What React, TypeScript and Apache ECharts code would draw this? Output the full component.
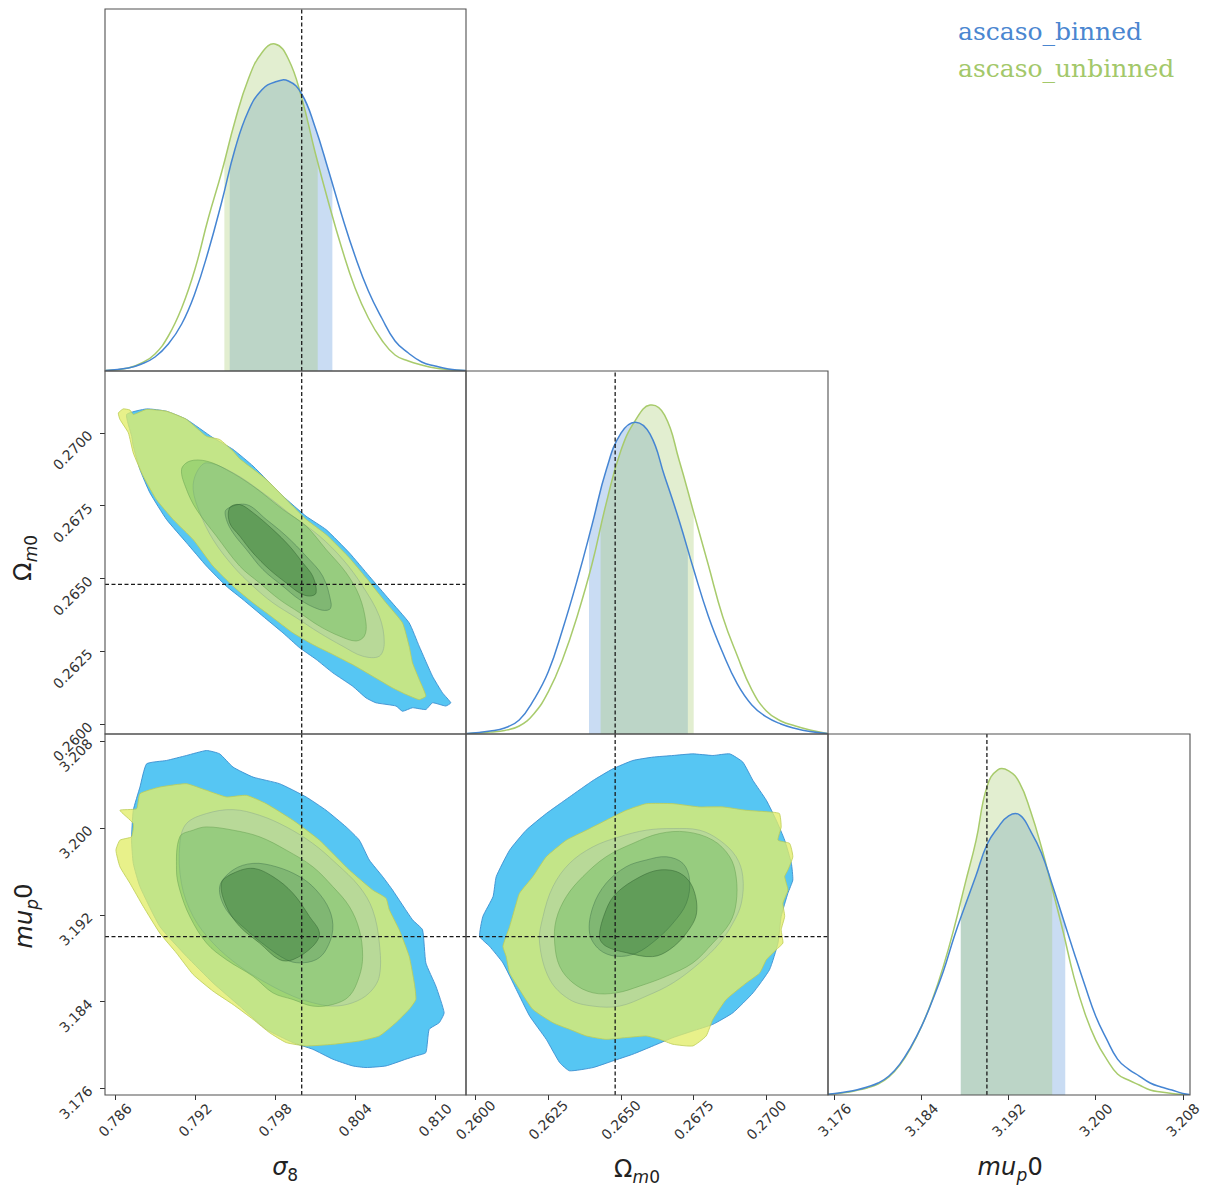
import React, { useEffect, useRef } from "react";
import * as echarts from "echarts";

// ---------- axis ranges and ticks ----------
const SIGMA8_RANGE = [0.78525, 0.81232];
const OMEGA_RANGE = [0.25967, 0.27212];
const MU_RANGE = [3.1754, 3.20866];
const DENSITY_MAX = 362;

const sigma8Ticks = [0.786, 0.792, 0.798, 0.804, 0.81];
const omegaTicks = [0.26, 0.2625, 0.265, 0.2675, 0.27];
const muTicks = [3.176, 3.184, 3.192, 3.2, 3.208];

// fiducial values (dashed lines)
const truthSigma8 = 0.8;
const truthOmega = 0.2648;
const truthMu = 3.19;

// ---------- 1D marginals (relative density) ----------
const sigma8Grid = [0.7853, 0.787, 0.788, 0.789, 0.79, 0.791, 0.792, 0.793, 0.794, 0.795, 0.796, 0.797, 0.798, 0.799, 0.8, 0.801, 0.802, 0.803, 0.804, 0.805, 0.806, 0.807, 0.808, 0.809, 0.81, 0.811, 0.8123];
const sigma8Binned = [0.5, 3, 7, 14, 27, 47, 78, 120, 169, 222, 260, 281, 289, 290, 277, 244, 201, 156, 115, 80, 53, 30, 18, 9, 5, 2, 0.5];
const sigma8Unbinned = [0.5, 3, 8, 17, 35, 63, 102, 153, 199, 250, 292, 318, 327, 312, 273, 219, 169, 123, 83, 53, 31, 16, 10, 6, 3, 1.5, 0.3];
const sigma8BandBinned = [0.7946, 0.8023];
const sigma8BandUnbinned = [0.7942, 0.8012];

const omegaGrid = [0.2597, 0.2605, 0.261, 0.2615, 0.262, 0.2625, 0.263, 0.2635, 0.264, 0.2645, 0.265, 0.2655, 0.266, 0.2665, 0.267, 0.2675, 0.268, 0.2685, 0.269, 0.2695, 0.27, 0.2705, 0.271, 0.2715, 0.2721];
const omegaBinned = [0.5, 3, 6, 14, 34, 62, 105, 154, 208, 264, 300, 311, 299, 257, 213, 164, 118, 81, 50, 29, 17, 10, 5.5, 2.5, 0.5];
const omegaUnbinned = [0.3, 2, 3.5, 8, 20, 42, 75, 118, 169, 231, 283, 313, 328, 318, 273, 221, 169, 117, 78, 44, 23, 13, 8, 4, 0.5];
const omegaBandBinned = [0.2639, 0.2673];
const omegaBandUnbinned = [0.2643, 0.2675];

const muGrid = [3.1753, 3.177, 3.178, 3.179, 3.18, 3.181, 3.182, 3.183, 3.184, 3.185, 3.186, 3.187, 3.188, 3.189, 3.19, 3.191, 3.192, 3.193, 3.194, 3.195, 3.196, 3.197, 3.198, 3.199, 3.2, 3.201, 3.202, 3.203, 3.204, 3.205, 3.206, 3.207, 3.208, 3.2086];
const muBinned = [0.5, 3, 5, 8, 12, 19, 31, 48, 69, 95, 124, 159, 190, 220, 251, 268, 280, 281, 265, 243, 211, 177, 143, 110, 79, 56, 36, 26, 19, 12, 8, 5, 1.5, 0.5];
const muUnbinned = [0.3, 2.5, 4.5, 7, 11, 18, 30, 47, 69, 96, 129, 168, 212, 255, 309, 326, 325, 313, 285, 249, 207, 164, 118, 82, 55, 36, 21, 15, 10, 5, 3, 1.5, 0.6, 0.3];
const muBandBinned = [3.1876, 3.1972];
const muBandUnbinned = [3.1876, 3.196];

// ---------- 2D contours: sigma8 vs Omega_m0 ----------
const sigOmBinnedOuter = [[0.78687,0.27063],[0.78837,0.27082],[0.78986,0.27074],[0.79136,0.27046],[0.79335,0.26983],[0.79485,0.26943],[0.79635,0.26886],[0.79859,0.26783],[0.80033,0.26714],[0.80183,0.26668],[0.80358,0.26588],[0.80507,0.26508],[0.80657,0.26428],[0.80806,0.26348],[0.80881,0.26268],[0.80981,0.26165],[0.81056,0.26108],[0.81118,0.26074],[0.8108,0.26063],[0.80981,0.26074],[0.80931,0.26051],[0.80831,0.26057],[0.80756,0.26045],[0.80707,0.26063],[0.80557,0.26074],[0.80482,0.26091],[0.80382,0.26131],[0.80233,0.26177],[0.80108,0.26223],[0.79984,0.26263],[0.79859,0.26314],[0.79709,0.26371],[0.7956,0.26428],[0.79435,0.26474],[0.79286,0.26543],[0.79136,0.26623],[0.78986,0.26703],[0.78862,0.26794],[0.78787,0.26874],[0.78737,0.26954],[0.78725,0.26988]];
const sigOmUnbinnedOuter = [[0.78625,0.27068],[0.78662,0.27082],[0.78712,0.27078],[0.78737,0.27063],[0.78837,0.2708],[0.78986,0.27074],[0.79136,0.27046],[0.79286,0.26988],[0.79385,0.26977],[0.79485,0.26937],[0.79535,0.26911],[0.79734,0.2684],[0.79934,0.26748],[0.80033,0.26703],[0.80183,0.26651],[0.80358,0.26571],[0.80482,0.26503],[0.80632,0.26417],[0.80756,0.26348],[0.80806,0.26268],[0.80831,0.26211],[0.80881,0.26154],[0.80931,0.26097],[0.80881,0.26085],[0.80781,0.26103],[0.80682,0.26125],[0.80532,0.26165],[0.80382,0.26205],[0.80233,0.2624],[0.80083,0.26274],[0.79934,0.26314],[0.79784,0.26366],[0.79635,0.26417],[0.79485,0.26474],[0.79335,0.26543],[0.79186,0.26634],[0.79036,0.26703],[0.78911,0.26771],[0.78812,0.26851],[0.78737,0.26931],[0.787,0.27],[0.78637,0.27046]];
const sigOmBinnedMid = [[0.79211,0.26863],[0.79286,0.26897],[0.79485,0.26863],[0.79709,0.26794],[0.79934,0.26714],[0.80133,0.26646],[0.80308,0.26566],[0.80457,0.26474],[0.80582,0.26371],[0.80619,0.2628],[0.80582,0.26234],[0.80457,0.26234],[0.80308,0.26268],[0.80133,0.26314],[0.79959,0.26366],[0.79784,0.26417],[0.79635,0.26474],[0.79485,0.26543],[0.79335,0.26634],[0.79236,0.26726],[0.79186,0.26806]];
const sigOmUnbinnedMid = [[0.79099,0.26874],[0.79161,0.26903],[0.79286,0.26903],[0.79435,0.26874],[0.79635,0.26817],[0.79859,0.26737],[0.80033,0.2668],[0.80183,0.266],[0.80333,0.2652],[0.80432,0.2644],[0.80482,0.26348],[0.8047,0.26303],[0.80407,0.26286],[0.80283,0.26303],[0.80133,0.26337],[0.79984,0.26383],[0.79834,0.26428],[0.79684,0.26485],[0.79535,0.26543],[0.7936,0.26646],[0.79211,0.26737],[0.79136,0.26806]];
const sigOmBinnedInner = [[0.79435,0.26737],[0.79585,0.26754],[0.79734,0.26703],[0.79884,0.26646],[0.80033,0.26577],[0.80158,0.26508],[0.8022,0.26417],[0.80208,0.26394],[0.80133,0.26394],[0.79984,0.26428],[0.79859,0.26474],[0.79709,0.26531],[0.79585,0.266],[0.79485,0.26657],[0.79435,0.26703]];
const sigOmUnbinnedInner = [[0.7946,0.26743],[0.79535,0.26754],[0.79635,0.26726],[0.79784,0.26668],[0.79909,0.26611],[0.80008,0.26554],[0.80083,0.26508],[0.80108,0.26451],[0.80058,0.2644],[0.79984,0.26451],[0.79884,0.26485],[0.79759,0.26531],[0.79635,0.26588],[0.79535,0.26646],[0.7946,0.26691]];

// ---------- 2D contours: sigma8 vs mu_p0 ----------
const sigMuBinnedOuter = [[0.78724,3.19888],[0.78737,3.20163],[0.78787,3.20377],[0.78837,3.20591],[0.78986,3.20622],[0.79136,3.20668],[0.79286,3.20714],[0.79385,3.20683],[0.79485,3.20561],[0.79635,3.20469],[0.79834,3.20408],[0.80033,3.20286],[0.80183,3.20163],[0.80333,3.2001],[0.80432,3.19888],[0.80507,3.19705],[0.80607,3.19552],[0.80681,3.19429],[0.80831,3.19154],[0.80906,3.19062],[0.80931,3.18757],[0.81006,3.18543],[0.81068,3.18298],[0.81031,3.18206],[0.80956,3.18145],[0.80931,3.17931],[0.80856,3.179],[0.80781,3.1787],[0.80632,3.17808],[0.80482,3.17793],[0.80382,3.17808],[0.80233,3.1787],[0.80083,3.17961],[0.79934,3.18023],[0.79734,3.18145],[0.79535,3.18359],[0.79335,3.18573],[0.79136,3.18818],[0.78936,3.19093],[0.78787,3.1946],[0.78737,3.19674]];
const sigMuUnbinnedOuter = [[0.78637,3.20163],[0.78762,3.20178],[0.78787,3.20316],[0.78936,3.20377],[0.79136,3.20408],[0.79286,3.20347],[0.79435,3.20286],[0.79585,3.20301],[0.79734,3.20224],[0.79934,3.20072],[0.80133,3.19888],[0.80357,3.19613],[0.80532,3.19429],[0.80632,3.19353],[0.80657,3.19246],[0.80731,3.19062],[0.80806,3.18818],[0.80844,3.18573],[0.80856,3.1842],[0.80806,3.18329],[0.80706,3.18206],[0.80582,3.18084],[0.80432,3.18038],[0.80233,3.18007],[0.80033,3.17992],[0.79884,3.18023],[0.79759,3.18114],[0.79635,3.18237],[0.79485,3.18374],[0.79335,3.18497],[0.79186,3.1865],[0.79061,3.18848],[0.78936,3.19032],[0.78812,3.19277],[0.78712,3.19491],[0.78637,3.19643],[0.78607,3.19796],[0.78637,3.19888],[0.78724,3.19919],[0.78737,3.20041]];
const sigMuBinnedMid = [[0.79086,3.19858],[0.79136,3.20041],[0.79286,3.20133],[0.79485,3.20169],[0.79684,3.20117],[0.79884,3.2001],[0.80083,3.19858],[0.80258,3.19674],[0.80432,3.1946],[0.80532,3.19246],[0.80582,3.1894],[0.80582,3.18634],[0.80507,3.18481],[0.80382,3.1839],[0.80233,3.18359],[0.80083,3.1839],[0.79934,3.18451],[0.79734,3.18573],[0.79535,3.18726],[0.79335,3.1894],[0.79186,3.19185],[0.79098,3.19491]];
const sigMuUnbinnedMid = [[0.79061,3.19613],[0.79086,3.19919],[0.79186,3.1998],[0.79286,3.2001],[0.79485,3.1998],[0.79684,3.19919],[0.79884,3.19796],[0.80083,3.19643],[0.80233,3.1946],[0.80357,3.19277],[0.80432,3.19062],[0.80457,3.18818],[0.80432,3.18634],[0.80357,3.18451],[0.80233,3.18374],[0.80083,3.18359],[0.79934,3.1842],[0.79784,3.18481],[0.79635,3.18634],[0.79435,3.18787],[0.79286,3.1894],[0.79161,3.19185],[0.79086,3.19429]];
const sigMuBinnedInner = [[0.79385,3.1946],[0.79485,3.19613],[0.79635,3.19674],[0.79809,3.19643],[0.79984,3.19552],[0.80108,3.19429],[0.80208,3.19246],[0.80233,3.19062],[0.80183,3.18879],[0.80108,3.18787],[0.79984,3.18757],[0.79884,3.18787],[0.79734,3.1891],[0.79585,3.19062],[0.79435,3.19246]];
const sigMuUnbinnedInner = [[0.79398,3.19491],[0.79485,3.19582],[0.79635,3.19628],[0.79784,3.19552],[0.79934,3.19399],[0.80058,3.19185],[0.80133,3.19032],[0.80083,3.1891],[0.79934,3.18787],[0.79834,3.18787],[0.79684,3.1894],[0.79535,3.19093],[0.79435,3.19277]];

// ---------- 2D contours: Omega_m0 vs mu_p0 ----------
const omMuBinnedOuter = [[0.26014,3.19001],[0.26025,3.19185],[0.2606,3.19368],[0.26071,3.19552],[0.26117,3.19796],[0.26174,3.1998],[0.26243,3.20133],[0.26323,3.20286],[0.26404,3.20438],[0.26472,3.20545],[0.26541,3.20622],[0.2661,3.20653],[0.26679,3.20668],[0.26747,3.20683],[0.26816,3.20668],[0.26874,3.20683],[0.26919,3.20607],[0.26954,3.20438],[0.27,3.20255],[0.27034,3.20072],[0.27063,3.19888],[0.27086,3.19674],[0.27091,3.19521],[0.27074,3.19399],[0.27051,3.19185],[0.2704,3.1894],[0.27011,3.18695],[0.26954,3.18481],[0.26885,3.18298],[0.26816,3.18191],[0.26747,3.1813],[0.26679,3.18069],[0.2661,3.17992],[0.26541,3.17916],[0.26472,3.17854],[0.26404,3.17793],[0.26323,3.17763],[0.26289,3.17839],[0.26243,3.18053],[0.26186,3.18267],[0.2614,3.18512],[0.26094,3.18757],[0.26048,3.1891]];
const omMuUnbinnedOuter = [[0.26105,3.18818],[0.26094,3.1891],[0.26117,3.19093],[0.2614,3.19307],[0.26151,3.19399],[0.26197,3.19552],[0.26243,3.19735],[0.26312,3.19888],[0.26381,3.1998],[0.26449,3.20072],[0.26518,3.20163],[0.26587,3.20224],[0.26679,3.20224],[0.2677,3.20194],[0.26851,3.20194],[0.26931,3.20163],[0.27011,3.20148],[0.27045,3.20133],[0.27051,3.2001],[0.2704,3.19888],[0.2708,3.19858],[0.27091,3.19735],[0.27074,3.19613],[0.27063,3.19552],[0.27074,3.19429],[0.27057,3.19307],[0.27063,3.19185],[0.27051,3.19062],[0.27057,3.1894],[0.27034,3.18879],[0.27,3.18787],[0.26977,3.18665],[0.26931,3.18573],[0.26862,3.1842],[0.26816,3.18237],[0.26793,3.18084],[0.26747,3.17992],[0.26679,3.18007],[0.26633,3.18053],[0.26587,3.18084],[0.26518,3.18069],[0.26449,3.18053],[0.26381,3.18084],[0.26323,3.18145],[0.26266,3.18206],[0.26197,3.18329],[0.26151,3.18512],[0.26117,3.18665]];
const omMuBinnedMid = [[0.2622,3.1894],[0.26232,3.19185],[0.26266,3.1946],[0.26323,3.19674],[0.26404,3.19827],[0.26495,3.19919],[0.26587,3.1998],[0.26679,3.19995],[0.2677,3.1998],[0.26839,3.19888],[0.26896,3.19735],[0.26919,3.19552],[0.26914,3.19307],[0.26885,3.19124],[0.26839,3.1894],[0.2677,3.18757],[0.26679,3.18573],[0.26587,3.18451],[0.26495,3.18359],[0.26404,3.18359],[0.26323,3.1842],[0.26255,3.18604]];
const omMuUnbinnedMid = [[0.26272,3.1894],[0.26277,3.19154],[0.26312,3.19368],[0.26369,3.19552],[0.26449,3.19735],[0.26541,3.19858],[0.26633,3.19949],[0.26725,3.19964],[0.26816,3.19888],[0.26874,3.19735],[0.26896,3.19552],[0.26896,3.19307],[0.26874,3.19124],[0.26816,3.1894],[0.26747,3.18757],[0.26656,3.18634],[0.26564,3.18543],[0.26484,3.18481],[0.26404,3.18481],[0.26335,3.18573],[0.26289,3.18726]];
const omMuBinnedInner = [[0.26392,3.19032],[0.26404,3.19277],[0.26449,3.19491],[0.26518,3.19643],[0.26587,3.19705],[0.26656,3.19735],[0.26713,3.19674],[0.26736,3.19521],[0.26725,3.19307],[0.26679,3.19124],[0.26621,3.18971],[0.26553,3.18848],[0.26484,3.18818],[0.26426,3.18879]];
const omMuUnbinnedInner = [[0.26426,3.18998],[0.26449,3.19246],[0.26484,3.19399],[0.26564,3.19548],[0.26633,3.19613],[0.26702,3.19585],[0.26746,3.19457],[0.2676,3.19218],[0.26726,3.19035],[0.26667,3.18879],[0.26609,3.18815],[0.26519,3.18851],[0.26449,3.1891]];

// ---------- styling ----------
const BINNED_LINE = "#4585d3";
const UNBINNED_LINE = "#a8cb6c";
const BINNED_BAND = "rgba(90,150,220,0.33)";
const UNBINNED_BAND = "rgba(160,200,100,0.3)";

const LAYER_STYLES = {
  binnedOuter: { fill: "#56c6f3", stroke: "#3b8fd0", smooth: 0.15 },
  unbinnedOuter: { fill: "rgba(225,237,105,0.78)", stroke: "rgba(190,205,85,0.9)", smooth: 0.15 },
  binnedMid: { fill: "rgba(150,185,200,0.25)", stroke: "rgba(140,170,140,0.55)", smooth: 0.35 },
  unbinnedMid: { fill: "rgba(90,180,80,0.35)", stroke: "rgba(100,160,80,0.55)", smooth: 0.35 },
  binnedInner: { fill: "rgba(60,120,80,0.25)", stroke: "rgba(70,120,80,0.55)", smooth: 0.35 },
  unbinnedInner: { fill: "rgba(40,110,40,0.35)", stroke: "rgba(50,100,50,0.55)", smooth: 0.35 },
};

const CURVE_SMOOTH = 0.45;
const FONT = '"DejaVu Sans", sans-serif';

// grid boxes: [left, top, width, height]
const GRID_BOXES = [
  [105, 9, 361, 362], // sigma8 marginal
  [105, 371, 361, 363], // sigma8 - Omega
  [105, 734, 361, 361], // sigma8 - mu
  [466, 371, 362, 363], // Omega marginal
  [466, 734, 362, 361], // Omega - mu
  [828, 734, 362, 361], // mu marginal
];

function plainAxis(gridIndex: number, range: number[]) {
  return {
    type: "value",
    gridIndex,
    min: range[0],
    max: range[1],
    axisLine: { show: false },
    splitLine: { show: false },
    axisTick: { show: false },
    axisLabel: { show: false },
  };
}

function labelledAxis(gridIndex: number, range: number[], ticks: number[], digits: number, isX: boolean) {
  return {
    ...plainAxis(gridIndex, range),
    axisTick: {
      show: true,
      length: 5,
      customValues: ticks,
      lineStyle: { color: "#333", width: 1 },
    },
    axisLabel: {
      show: true,
      customValues: ticks,
      rotate: 45,
      margin: isX ? 25 : 15,
      align: isX ? "center" : "right",
      verticalAlign: "middle",
      color: "#333",
      fontSize: 14,
      fontFamily: FONT,
      formatter: (v: number) => Number(v).toFixed(digits),
    },
  };
}

function contourSeries(points: number[][], gridIndex: number, style: any) {
  return {
    type: "custom",
    xAxisIndex: gridIndex,
    yAxisIndex: gridIndex,
    clip: true,
    silent: true,
    data: points,
    renderItem: (params: any, api: any) => {
      if (params.dataIndex !== 0) return null;
      return {
        type: "polygon",
        shape: { points: points.map((p) => api.coord(p)), smooth: style.smooth },
        style: { fill: style.fill, stroke: style.stroke, lineWidth: 0.9 },
      };
    },
  };
}

function bandSeries(xs: number[], ys: number[], band: number[], gridIndex: number, color: string) {
  const pts = xs.map((x, i) => [x, ys[i]]);
  return {
    type: "custom",
    xAxisIndex: gridIndex,
    yAxisIndex: gridIndex,
    clip: true,
    silent: true,
    data: pts,
    renderItem: (params: any, api: any) => {
      if (params.dataIndex !== 0) return null;
      const curve = pts.map((p) => api.coord(p));
      const endBase = api.coord([xs[xs.length - 1], 0]);
      const startBase = api.coord([xs[0], 0]);
      const topLeft = api.coord([band[0], DENSITY_MAX]);
      const bottomRight = api.coord([band[1], 0]);
      return {
        type: "polygon",
        shape: { points: [...curve, endBase, startBase], smooth: CURVE_SMOOTH },
        style: { fill: color },
        clipPath: {
          type: "rect",
          shape: {
            x: topLeft[0],
            y: topLeft[1],
            width: bottomRight[0] - topLeft[0],
            height: bottomRight[1] - topLeft[1],
          },
        },
      };
    },
  };
}

function curveSeries(xs: number[], ys: number[], gridIndex: number, color: string) {
  const pts = xs.map((x, i) => [x, ys[i]]);
  return {
    type: "custom",
    xAxisIndex: gridIndex,
    yAxisIndex: gridIndex,
    clip: true,
    silent: true,
    data: pts,
    renderItem: (params: any, api: any) => {
      if (params.dataIndex !== 0) return null;
      return {
        type: "polyline",
        shape: { points: pts.map((p) => api.coord(p)), smooth: CURVE_SMOOTH },
        style: { stroke: color, lineWidth: 1.5, fill: "none" },
      };
    },
  };
}

function truthLine(gridIndex: number, a: number[], b: number[]) {
  return {
    type: "line",
    xAxisIndex: gridIndex,
    yAxisIndex: gridIndex,
    data: [a, b],
    symbol: "none",
    silent: true,
    z: 6,
    lineStyle: { color: "#1a1a1a", width: 1.3, type: [4, 2.5] },
  };
}

function contourStack(gridIndex: number, layers: number[][][]) {
  const styles = [
    LAYER_STYLES.binnedOuter,
    LAYER_STYLES.unbinnedOuter,
    LAYER_STYLES.binnedMid,
    LAYER_STYLES.unbinnedMid,
    LAYER_STYLES.binnedInner,
    LAYER_STYLES.unbinnedInner,
  ];
  return layers.map((pts, i) => contourSeries(pts, gridIndex, styles[i]));
}

function marginal(gridIndex: number, xs: number[], binned: number[], unbinned: number[], bandB: number[], bandU: number[]) {
  return [
    bandSeries(xs, binned, bandB, gridIndex, BINNED_BAND),
    bandSeries(xs, unbinned, bandU, gridIndex, UNBINNED_BAND),
    curveSeries(xs, unbinned, gridIndex, UNBINNED_LINE),
    curveSeries(xs, binned, gridIndex, BINNED_LINE),
  ];
}

// text helpers for axis names (math-style labels)
function txt(x: number, y: number, text: string, size: number, italic: boolean) {
  return {
    type: "text",
    x,
    y,
    silent: true,
    style: {
      text,
      font: `${italic ? "italic " : ""}${size}px ${FONT}`,
      fill: "#222",
      align: "left",
      textAlign: "left",
      verticalAlign: "middle",
      textVerticalAlign: "middle",
    },
  };
}

function legendText(y: number, text: string, color: string) {
  return {
    type: "text",
    x: 958,
    y,
    silent: true,
    style: {
      text,
      font: '25px "DejaVu Serif", serif',
      fill: color,
      align: "left",
      textAlign: "left",
      verticalAlign: "middle",
      textVerticalAlign: "middle",
    },
  };
}

function buildOption() {
  const grid = GRID_BOXES.map(([left, top, width, height]) => ({
    show: true,
    left,
    top,
    width,
    height,
    z: 10,
    containLabel: false,
    backgroundColor: "transparent",
    borderColor: "#505050",
    borderWidth: 1.1,
  }));

  const xAxis = [
    plainAxis(0, SIGMA8_RANGE),
    plainAxis(1, SIGMA8_RANGE),
    labelledAxis(2, SIGMA8_RANGE, sigma8Ticks, 3, true),
    plainAxis(3, OMEGA_RANGE),
    labelledAxis(4, OMEGA_RANGE, omegaTicks, 4, true),
    labelledAxis(5, MU_RANGE, muTicks, 3, true),
  ];
  const yAxis = [
    plainAxis(0, [0, DENSITY_MAX]),
    labelledAxis(1, OMEGA_RANGE, omegaTicks, 4, false),
    labelledAxis(2, MU_RANGE, muTicks, 3, false),
    plainAxis(3, [0, DENSITY_MAX]),
    plainAxis(4, MU_RANGE),
    plainAxis(5, [0, DENSITY_MAX]),
  ];

  const series: any[] = [
    ...marginal(0, sigma8Grid, sigma8Binned, sigma8Unbinned, sigma8BandBinned, sigma8BandUnbinned),
    ...contourStack(1, [sigOmBinnedOuter, sigOmUnbinnedOuter, sigOmBinnedMid, sigOmUnbinnedMid, sigOmBinnedInner, sigOmUnbinnedInner]),
    ...contourStack(2, [sigMuBinnedOuter, sigMuUnbinnedOuter, sigMuBinnedMid, sigMuUnbinnedMid, sigMuBinnedInner, sigMuUnbinnedInner]),
    ...marginal(3, omegaGrid, omegaBinned, omegaUnbinned, omegaBandBinned, omegaBandUnbinned),
    ...contourStack(4, [omMuBinnedOuter, omMuUnbinnedOuter, omMuBinnedMid, omMuUnbinnedMid, omMuBinnedInner, omMuUnbinnedInner]),
    ...marginal(5, muGrid, muBinned, muUnbinned, muBandBinned, muBandUnbinned),
    // fiducial dashed lines
    truthLine(0, [truthSigma8, 0], [truthSigma8, DENSITY_MAX]),
    truthLine(1, [truthSigma8, OMEGA_RANGE[0]], [truthSigma8, OMEGA_RANGE[1]]),
    truthLine(1, [SIGMA8_RANGE[0], truthOmega], [SIGMA8_RANGE[1], truthOmega]),
    truthLine(2, [truthSigma8, MU_RANGE[0]], [truthSigma8, MU_RANGE[1]]),
    truthLine(2, [SIGMA8_RANGE[0], truthMu], [SIGMA8_RANGE[1], truthMu]),
    truthLine(3, [truthOmega, 0], [truthOmega, DENSITY_MAX]),
    truthLine(4, [truthOmega, MU_RANGE[0]], [truthOmega, MU_RANGE[1]]),
    truthLine(4, [OMEGA_RANGE[0], truthMu], [OMEGA_RANGE[1], truthMu]),
    truthLine(5, [truthMu, 0], [truthMu, DENSITY_MAX]),
  ];

  const graphic = [
    // legend
    legendText(31, "ascaso_binned", "#4a86d0"),
    legendText(68, "ascaso_unbinned", "#a3c86a"),
    // x axis names
    txt(272.3, 1166.7, "σ", 24, true),
    txt(287.3, 1175.1, "8", 17, false),
    txt(614, 1168.7, "Ω", 24, false),
    txt(632.6, 1177.1, "m", 17, true),
    txt(649.2, 1177.1, "0", 17, false),
    txt(977.6, 1166.7, "mu", 24, true),
    txt(1016.4, 1175.1, "p", 17, true),
    txt(1027.4, 1166.7, "0", 24, false),
    // y axis names (rotated)
    {
      type: "group",
      x: -2,
      y: 558,
      rotation: Math.PI / 2,
      children: [
        txt(-22.9, 24.7, "Ω", 24, false),
        txt(-4.3, 33.1, "m", 17, true),
        txt(12.3, 33.1, "0", 17, false),
      ],
    },
    {
      type: "group",
      x: -5,
      y: 916,
      rotation: Math.PI / 2,
      children: [
        txt(-32.4, 28.7, "mu", 24, true),
        txt(6.2, 37.1, "p", 17, true),
        txt(17.2, 28.7, "0", 24, false),
      ],
    },
  ];

  return {
    animation: false,
    backgroundColor: "#ffffff",
    grid,
    xAxis,
    yAxis,
    series,
    graphic,
  };
}

export default function App() {
  const ref = useRef<HTMLDivElement>(null);

  useEffect(() => {
    if (!ref.current) return;
    const chart = echarts.init(ref.current, null, { renderer: "svg" });
    chart.setOption(buildOption() as any);
    return () => chart.dispose();
  }, []);

  return (
    <div
      ref={ref}
      style={{ position: "fixed", left: 0, top: 0, width: 1210, height: 1192, background: "#fff" }}
    />
  );
}
